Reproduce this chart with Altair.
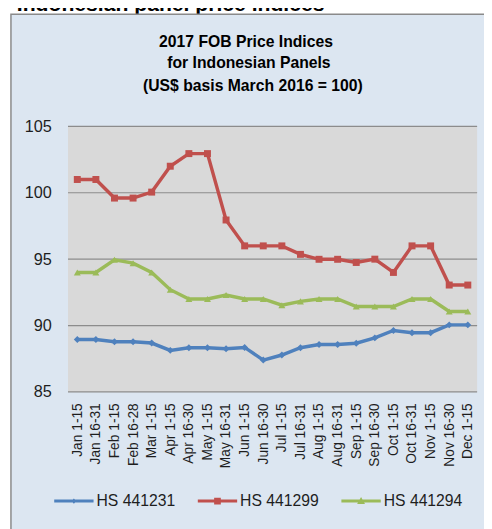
import altair as alt
import pandas as pd

categories = ["Jan 1-15", "Jan 16-31", "Feb 1-15", "Feb 16-28", "Mar 1-15",
              "Apr 1-15", "Apr 16-30", "May 1-15", "May 16-31", "Jun 1-15",
              "Jun 16-30", "Jul 1-15", "Jul 16-31", "Aug 1-15", "Aug 16-31",
              "Sep 1-15", "Sep 16-30", "Oct 1-15", "Oct 16-31", "Nov 1-15",
              "Nov 16-30", "Dec 1-15"]
series_names = ["HS 441231", "HS 441299", "HS 441294"]
hs441231 = [88.95, 88.95, 88.78, 88.78, 88.68, 88.13, 88.33, 88.33, 88.25, 88.35,
            87.4, 87.78, 88.33, 88.57, 88.57, 88.67, 89.07, 89.63, 89.46, 89.46,
            90.05, 90.05]
hs441299 = [101.0, 101.0, 99.6, 99.6, 100.05, 102.0, 102.95, 102.95, 97.95, 96.0,
            96.0, 96.0, 95.36, 94.99, 94.99, 94.75, 95.0, 94.0, 96.0, 96.0,
            93.05, 93.05]
hs441294 = [94.0, 94.0, 94.95, 94.7, 94.0, 92.7, 92.0, 92.0, 92.3, 92.0,
            92.0, 91.53, 91.82, 92.0, 92.0, 91.43, 91.43, 91.43, 92.0, 92.0,
            91.06, 91.06]
y_ticks = [85, 90, 95, 100, 105]
colors = ["#4F81BD", "#C0504D", "#9BBB59"]
marker_shapes = ["diamond", "square", "triangle-up"]
legend_shapes = [
    "M-1,-0.075H1V0.075H-1Z M0,-0.13L0.13,0L0,0.13L-0.13,0Z",
    "M-1,-0.075H1V0.075H-1Z M-0.17,-0.17H0.17V0.17H-0.17Z",
    "M-1,-0.075H1V0.075H-1Z M0,-0.21L0.2,0.15H-0.2Z",
]
title_lines = ["2017 FOB Price Indices", " for Indonesian Panels",
               "(US$ basis March 2016 = 100)"]
outer_title = "Indonesian panel price indices"

rows = []
for name, vals in zip(series_names, [hs441231, hs441299, hs441294]):
    for c, v in zip(categories, vals):
        rows.append({"period": c, "series": name, "value": v})
df = pd.DataFrame(rows)
grid_df = pd.DataFrame({"v": y_ticks})
one = pd.DataFrame({"a": [0]})

W, H = 416, 270
FONT = "Liberation Sans"
TXT = "#1e1e1e"

y_scale = alt.Scale(domain=[85, 105], nice=False, zero=False)
y_axis = alt.Axis(title=None, values=y_ticks, grid=False, ticks=False, domain=False,
                  labelFontSize=16.5, labelPadding=17, labelColor=TXT, labelFont=FONT,
                  zindex=1)
x_scale = alt.Scale(type="point", padding=0.5)
x_axis = alt.Axis(title=None, labelAngle=-90, labelFontSize=14, labelPadding=11,
                  ticks=False, domain=False, labelColor=TXT, labelFont=FONT, zindex=1)
x_enc = alt.X("period:N", sort=categories, scale=x_scale, axis=x_axis)
y_enc = alt.Y("value:Q", scale=y_scale, axis=y_axis)

top_text = alt.Chart(one).mark_text(
    text=outer_title, font=FONT, fontSize=21.5, fontWeight="bold", align="left",
    baseline="alphabetic", color="#000000"
).encode(x=alt.value(-52), y=alt.value(-117.5))

box = alt.Chart(one).mark_rect(fill="#DCE6F1", stroke="#8A8A8A", strokeWidth=1.5).encode(
    x=alt.value(-58), x2=alt.value(460), y=alt.value(-114), y2=alt.value(460))

plot_bg = alt.Chart(one).mark_rect(fill="#D9D9D9").encode(
    x=alt.value(0), x2=alt.value(W), y=alt.value(0), y2=alt.value(H))

grid = alt.Chart(grid_df).mark_rule(color="#8C8C8C", strokeWidth=1.2).encode(
    y=alt.Y("v:Q", scale=y_scale, axis=y_axis), x=alt.value(0), x2=alt.value(W))

color_scale = alt.Scale(domain=series_names, range=colors)

lines = alt.Chart(df).mark_line(strokeWidth=3.5).encode(
    x=x_enc, y=y_enc,
    color=alt.Color("series:N", scale=color_scale, legend=None),
    detail="series:N")

points = alt.Chart(df).mark_point(filled=True, opacity=1, size=50).encode(
    x=x_enc, y=y_enc,
    color=alt.Color("series:N", scale=color_scale, legend=None),
    shape=alt.Shape("series:N", scale=alt.Scale(domain=series_names, range=marker_shapes),
                    legend=None))

leg = alt.Legend(orient="none", legendX=-14, legendY=361, direction="horizontal",
                 title=None, labelFontSize=16, labelOffset=3, columnPadding=22,
                 symbolSize=1600, symbolStrokeWidth=0, labelColor=TXT, labelFont=FONT,
                 zindex=1)
legend_layer = alt.Chart(df).transform_filter("false").mark_point(
    filled=True, opacity=1, size=1600).encode(
    color=alt.Color("series:N", scale=color_scale, legend=leg),
    shape=alt.Shape("series:N", scale=alt.Scale(domain=series_names, range=legend_shapes),
                    legend=leg))

title_pos = [(181, -80.5), (184, -59), (188, -36)]
titles = [
    alt.Chart(one).mark_text(text=t, font=FONT, fontSize=16, fontWeight="bold",
                             align="center", baseline="alphabetic", color="#000000")
    .encode(x=alt.value(px), y=alt.value(py))
    for t, (px, py) in zip(title_lines, title_pos)
]

chart = alt.layer(top_text, box, plot_bg, grid, lines, points, legend_layer, *titles).resolve_scale(
    color="independent", shape="independent"
).properties(
    width=W, height=H,
    autosize=alt.AutoSizeParams(type="none"),
    padding={"left": 61, "top": 116, "right": 7, "bottom": 135},
    background="white",
).configure_view(stroke=None).configure(font=FONT)

chart.save("out.html", embed_options={"renderer": "svg", "actions": False})
